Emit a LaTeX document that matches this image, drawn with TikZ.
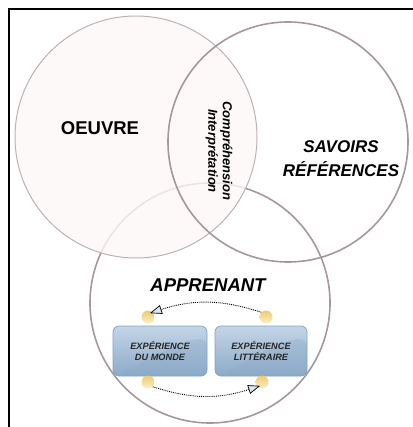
\documentclass[tikz,border=0pt]{standalone}
\usepackage{fontspec}
\setmainfont{Liberation Sans}
\usetikzlibrary{arrows.meta,calc}
\definecolor{contour}{HTML}{A4979F}
\definecolor{contourclair}{HTML}{BDB1B8}
\definecolor{rose}{HTML}{FDF8F8}
\definecolor{bleuclair}{HTML}{C4D5E7}
\definecolor{bleufonce}{HTML}{8CAAC8}
\definecolor{bordbleu}{HTML}{7EA4C6}
\definecolor{bleupale}{HTML}{DCE7F2}
\definecolor{orclair}{HTML}{FCF0C6}
\definecolor{orfonce}{HTML}{EDCB72}
\definecolor{gristexte}{HTML}{262626}
\tikzset{
  cercle/.style={circle,draw=contour,line width=1.6pt,minimum size=240pt,inner sep=0pt},
  titre/.style={font=\bfseries\fontsize{18.5}{22}\selectfont},
  boite/.style={rounded corners=6pt,draw=bordbleu,line width=0.7pt,
    top color=bleuclair,bottom color=bleufonce,minimum height=50pt,
    align=center,text=gristexte,font=\bfseries\itshape\fontsize{9.2}{10.5}\selectfont,
    path picture={\fill[bleufonce,opacity=.35]
      ($(path picture bounding box.south west)+(4pt,0)$)
      .. controls ($(path picture bounding box.center)+(4pt,0)$) and
      ($(path picture bounding box.north east)+(-20pt,-12pt)$) ..
      ($(path picture bounding box.north east)+(0,-14pt)$)
      -- (path picture bounding box.south east) -- cycle;}},
  pastille/.style={circle,minimum size=13pt,inner sep=0pt,top color=orfonce,bottom color=orclair},
  fleche/.style={densely dotted,line width=0.9pt,
    -{Triangle[length=12pt,width=9pt,fill=bleupale,line width=0.7pt,sep=-3pt]}}
}
\begin{document}
\begin{tikzpicture}[x=1pt,y=-1pt]
\useasboundingbox (0,0) rectangle (412,427);
% Cadre :
\draw[line width=1.8pt] (9,9) rectangle (440,450);
% Les trois cercles :
\node[cercle] (apprenant) at (210,303) {};
\node[cercle,draw=contourclair,line width=1pt,minimum size=242pt,fill=rose,fill opacity=.8] (oeuvre) at (136,137) {};
\node[cercle] (savoirs) at (288,142) {};
% Textes :
\node[titre] (toeuvre) at (100,128) {OEUVRE};
\node[titre,font=\bfseries\itshape\fontsize{17}{24}\selectfont,align=center] (tsavoirs) at (341,159) {SAVOIRS\\RÉFÉRENCES};
\node[font=\bfseries\itshape\fontsize{13}{14.5}\selectfont,align=center,rotate=-90] (tinter) at (219,151) {Compréhension\\Interprétation};
\node[titre,font=\bfseries\itshape\fontsize{18.5}{22}\selectfont] (tapprenant) at (208,285) {APPRENANT};
% Les deux expériences :
\node[boite,minimum width=94pt] (monde) at (160,351) {EXPÉRIENCE\\DU MONDE};
\node[boite,minimum width=92pt] (litte) at (261,351) {EXPÉRIENCE\\LITTÉRAIRE};
\node[pastille] (phg) at (148,317) {};
\node[pastille] (phd) at (266,317) {};
\node[pastille] (pbg) at (148,382) {};
\node[pastille] (pbd) at (262,382) {};
% Flèches :
\draw[fleche] (phd.north west) to[bend right=18] (phg.north east);
\draw[fleche] (pbg.south east) to[bend right=18] (pbd.south west);
\end{tikzpicture}
\end{document}
